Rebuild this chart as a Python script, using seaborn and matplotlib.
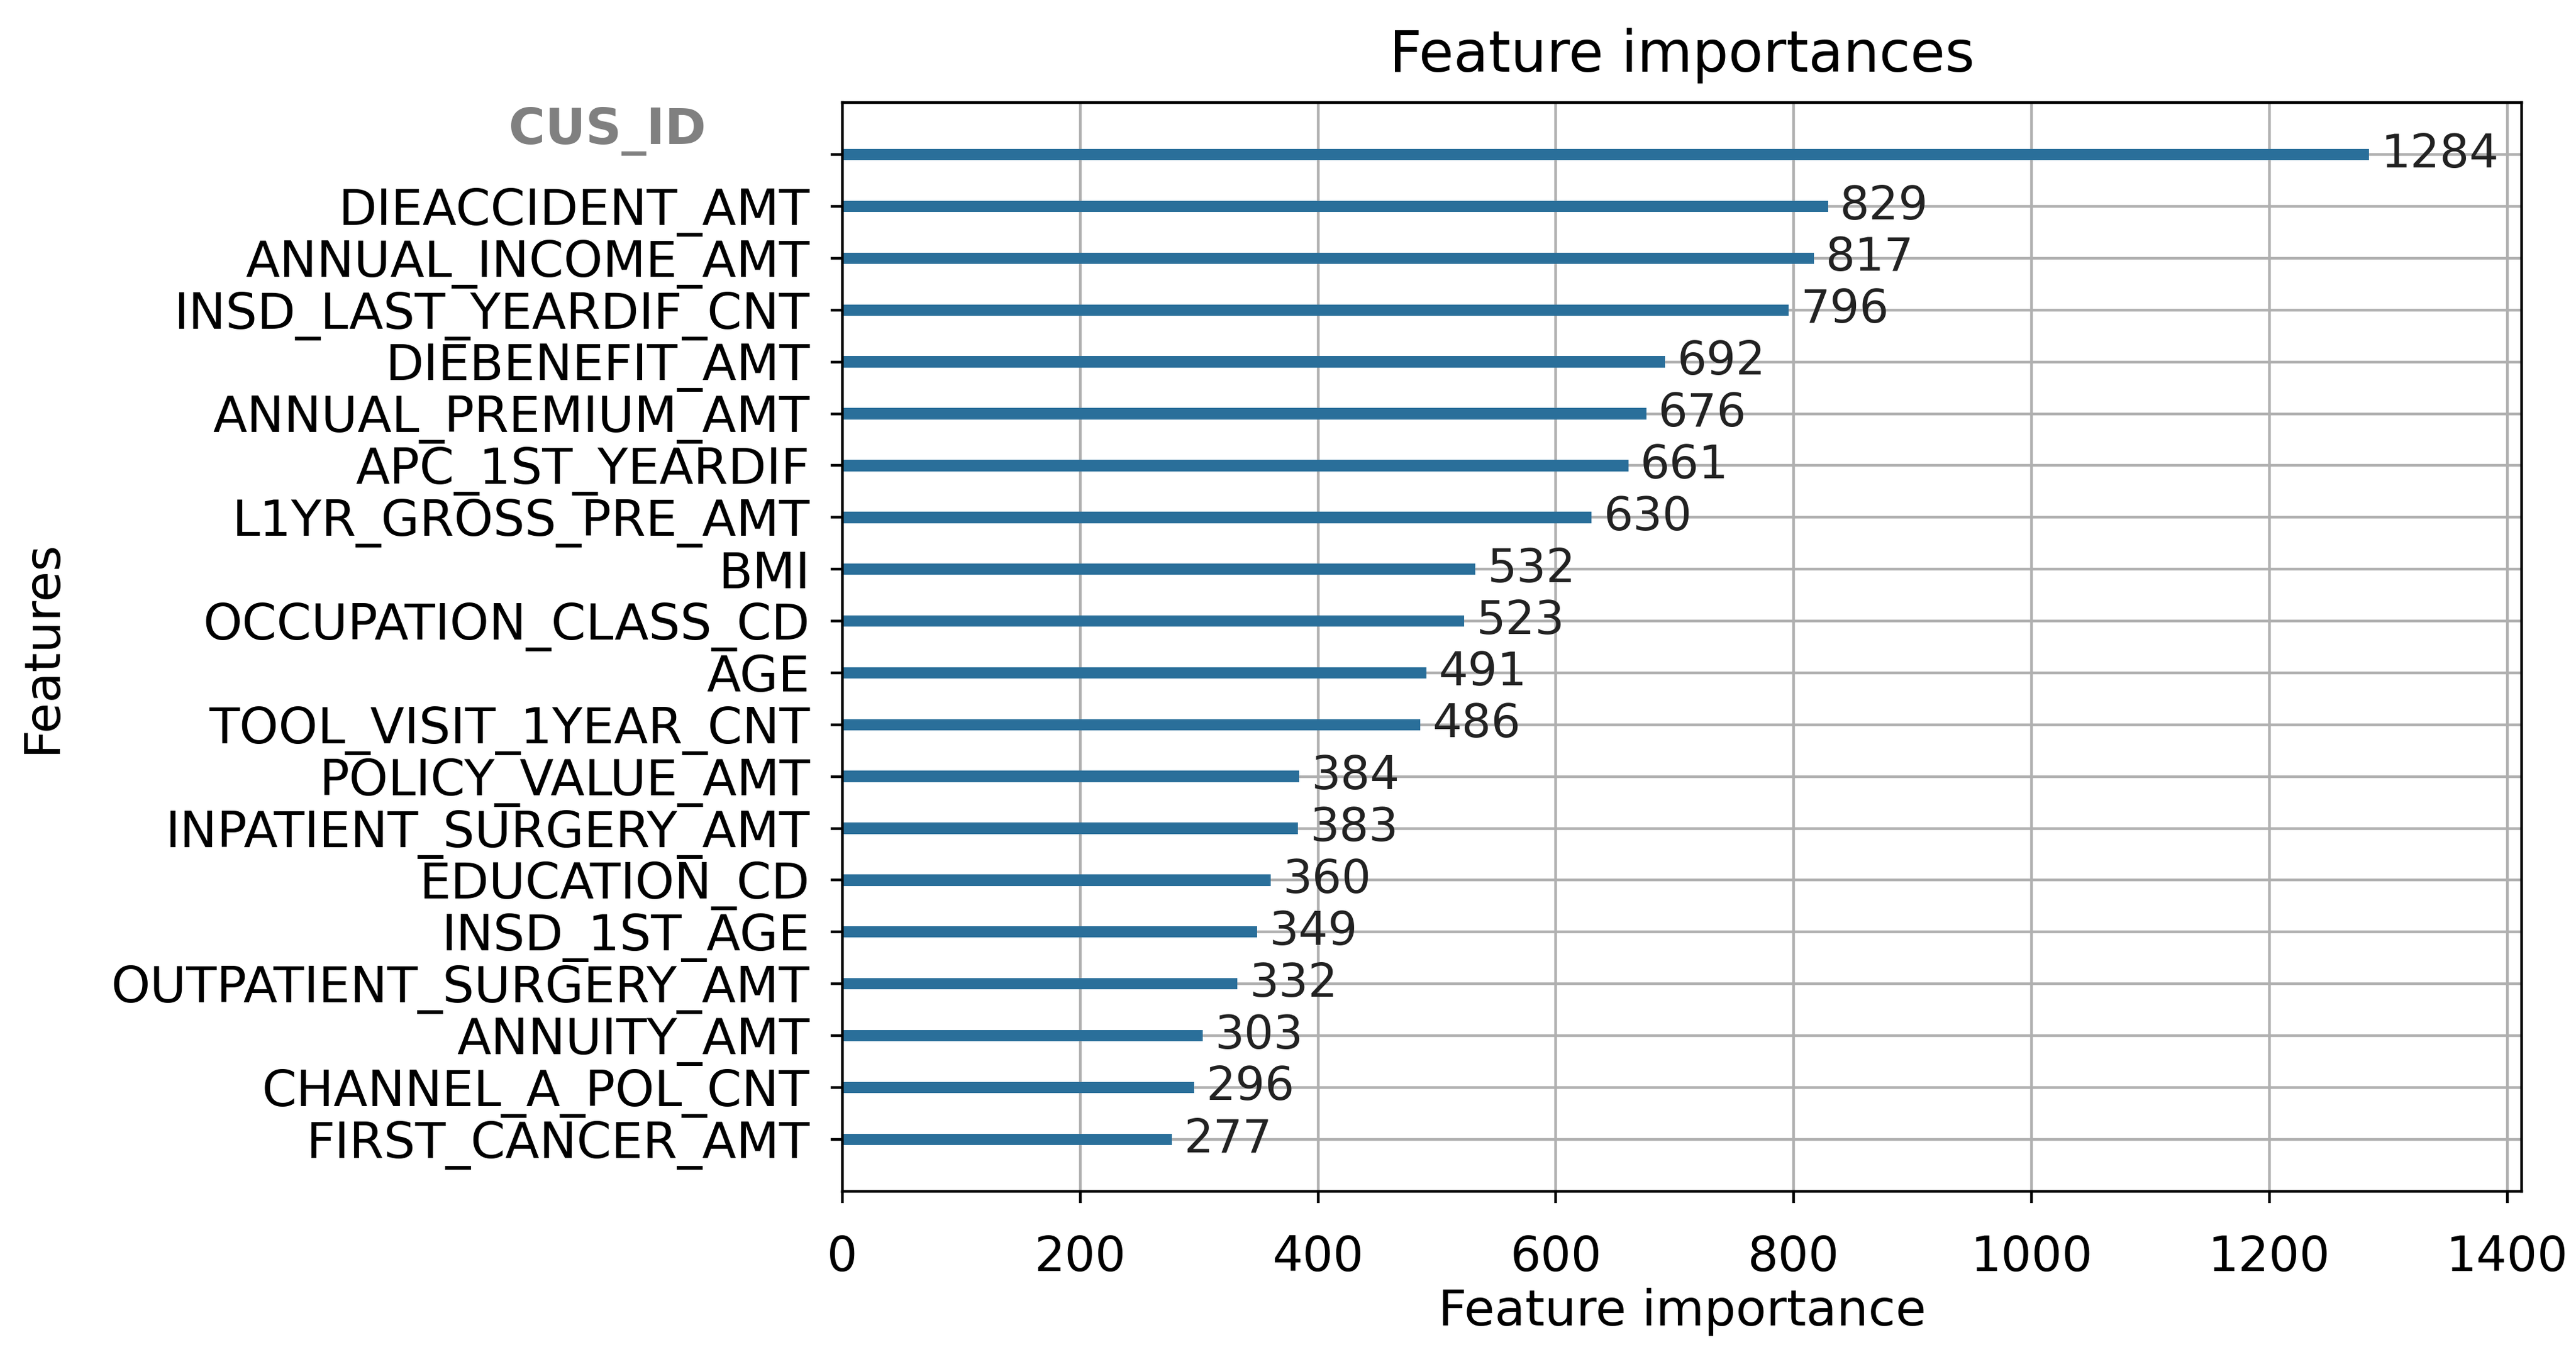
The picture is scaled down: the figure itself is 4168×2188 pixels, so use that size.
import matplotlib
matplotlib.use("Agg")
import matplotlib.pyplot as plt
import seaborn as sns
import pandas as pd

# Feature importances, top to bottom
features = [
    "CUS_ID", "DIEACCIDENT_AMT", "ANNUAL_INCOME_AMT", "INSD_LAST_YEARDIF_CNT",
    "DIEBENEFIT_AMT", "ANNUAL_PREMIUM_AMT", "APC_1ST_YEARDIF", "L1YR_GROSS_PRE_AMT",
    "BMI", "OCCUPATION_CLASS_CD", "AGE", "TOOL_VISIT_1YEAR_CNT", "POLICY_VALUE_AMT",
    "INPATIENT_SURGERY_AMT", "EDUCATION_CD", "INSD_1ST_AGE", "OUTPATIENT_SURGERY_AMT",
    "ANNUITY_AMT", "CHANNEL_A_POL_CNT", "FIRST_CANCER_AMT",
]
importances = [1284, 829, 817, 796, 692, 676, 661, 630, 532, 523, 491, 486,
               384, 383, 360, 349, 332, 303, 296, 277]
xticks = [0, 200, 400, 600, 800, 1000, 1200, 1400]

df = pd.DataFrame({"feature": features, "importance": importances})

plt.rcParams["font.family"] = ["DejaVu Sans"]
fig = plt.figure(figsize=(10.42, 5.47), dpi=400)
ax = fig.add_axes([0.327, 0.119, 0.652, 0.805])

sns.barplot(data=df, x="importance", y="feature", order=features,
            orient="h", width=0.22, color="#2a6f9a", saturation=1,
            linewidth=0, ax=ax)

for i, v in enumerate(importances):
    ax.text(v + 10, i, str(v), va="center", fontsize=13.5, color="#222222")

ax.set_xlim(0, max(importances) * 1.1)
ax.set_ylim(len(features), -1)
ax.set_xticks(xticks)
ax.set_xticklabels([str(t) for t in xticks], fontsize=14)
labels = [""] + features[1:]
ax.set_yticks(range(len(features)))
ax.set_yticklabels(labels, fontsize=14.5)
ax.tick_params(axis="y", pad=6)
ax.tick_params(axis="x", pad=9)
ax.grid(True, color="#b0b0b0", linewidth=0.8)
ax.set_axisbelow(True)

ax.set_title("Feature importances", fontsize=16.5, pad=9)
ax.set_xlabel("Feature importance", fontsize=14.5, labelpad=2)
ax.set_ylabel("Features", fontsize=14.5)
ax.yaxis.set_label_coords(-0.462, 0.5)

fig.text(0.274, 0.903, "CUS_ID", ha="right", va="center",
         fontsize=14.5, fontweight="bold", color="#808080")

fig.savefig("out.png", dpi=400)
